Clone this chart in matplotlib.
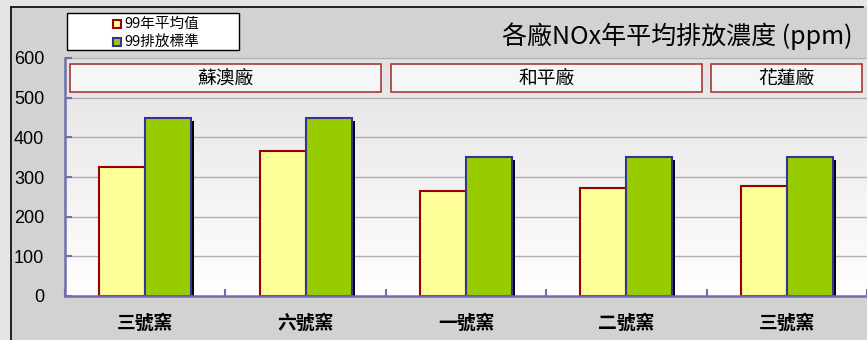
import matplotlib.pyplot as plt
import matplotlib.patheffects as pe
from matplotlib.patches import Rectangle
from matplotlib.lines import Line2D
from matplotlib.colors import LinearSegmentedColormap
import numpy as np

plt.rcParams['font.family'] = ['Noto Sans CJK TC', 'DejaVu Sans']

# 資料
kilns = ['三號窯', '六號窯', '一號窯', '二號窯', '三號窯']
avg_99 = [325, 365, 265, 273, 278]        # 99年平均值
std_99 = [450, 450, 350, 350, 350]        # 99排放標準
plants = ['蘇澳廠', '和平廠', '花蓮廠']
plant_span = [(0, 1), (2, 3), (4, 4)]     # 各廠涵蓋的窯別

yellow, yellow_edge = '#ffff99', '#990000'
green, green_edge = '#99cc00', '#333399'
axis_color = '#6f6fae'

fig = plt.figure(figsize=(8.67, 3.4), dpi=100, facecolor='#e4e4e4')

# 外框與底色
fig.patches.append(Rectangle((11 / 867, 0), 1, 1 - 7 / 340, transform=fig.transFigure,
                             facecolor='#d2d2d2', edgecolor='none', zorder=-10))
fig.add_artist(Line2D([11 / 867, 863 / 867], [1 - 7 / 340] * 2, color='k', lw=1.2))
fig.add_artist(Line2D([11 / 867] * 2, [0, 1 - 7 / 340], color='k', lw=1.2))

ax = fig.add_axes([65 / 867, 44 / 340, 802 / 867, 238 / 340])
ax.set_xlim(-0.5, 4.5)
ax.set_ylim(0, 600)

# 繪圖區漸層背景
grad = LinearSegmentedColormap.from_list('bg', ['#ffffff', '#e3e3e3'])
ax.imshow(np.linspace(0, 1, 256).reshape(-1, 1), cmap=grad, origin='lower',
          extent=[-0.5, 4.5, 0, 600], aspect='auto', zorder=0)

for y in range(100, 700, 100):
    ax.axhline(y, color='#b0b0b0', lw=1.0, zorder=1)

x = np.arange(len(kilns))
w = 0.287
ax.bar(x - w / 2, avg_99, width=w, color=yellow, edgecolor=yellow_edge, linewidth=1.5, zorder=3)
bars2 = ax.bar(x + w / 2, std_99, width=w, color=green, edgecolor=green_edge, linewidth=1.5, zorder=3)
for b in bars2:
    b.set_path_effects([pe.SimplePatchShadow(offset=(2.2, -2.2), shadow_rgbFace='k', alpha=1),
                        pe.Normal()])

# 廠別標籤框
for name, (a, b) in zip(plants, plant_span):
    ax.add_patch(Rectangle((a - 0.5 + 0.03, 514), b - a + 1 - 0.06, 71,
                           facecolor='#f6f6f6', edgecolor='#a02828', lw=1.1, zorder=4))
    ax.text((a + b) / 2, 549.5, name, ha='center', va='center', fontsize=13.5, zorder=5)

# 座標軸
for s in ['top', 'right']:
    ax.spines[s].set_visible(False)
for s in ['left', 'bottom']:
    ax.spines[s].set_color(axis_color)
    ax.spines[s].set_linewidth(1.8)
ax.spines['bottom'].set_zorder(6)

ax.set_yticks(range(0, 700, 100))
ax.set_yticklabels([str(v) for v in range(0, 700, 100)], family='Liberation Sans', fontsize=13)
ax.tick_params(axis='y', direction='in', length=5, width=1.5, color=axis_color, pad=15)
ax.set_xticks(x)
ax.set_xticklabels(kilns, fontsize=13.5, fontweight='bold')
ax.tick_params(axis='x', length=0, pad=13)
ax.set_xticks(np.arange(-0.5, 5, 1), minor=True)
ax.tick_params(axis='x', which='minor', direction='in', length=5, width=1.5, color=axis_color)

# 標題
fig.text(852 / 867, 1 - 36 / 340, '各廠NOx年平均排放濃度 (ppm)', ha='right', va='center', fontsize=18)

# 圖例
fig.patches.append(Rectangle((67 / 867, 1 - 50 / 340), 172 / 867, 37 / 340, transform=fig.transFigure,
                             facecolor='white', edgecolor='k', lw=1.0))
for yy, fc, ec, lab in [(24, yellow, yellow_edge, '99年平均值'), (42, green, green_edge, '99排放標準')]:
    fig.patches.append(Rectangle((113 / 867, 1 - (yy + 4) / 340), 8 / 867, 8 / 340,
                                 transform=fig.transFigure, facecolor=fc, edgecolor=ec, lw=1.5))
    fig.text(124 / 867, 1 - yy / 340, lab, ha='left', va='center', fontsize=10.5)

fig.savefig('out.png', dpi=100, facecolor=fig.get_facecolor())
